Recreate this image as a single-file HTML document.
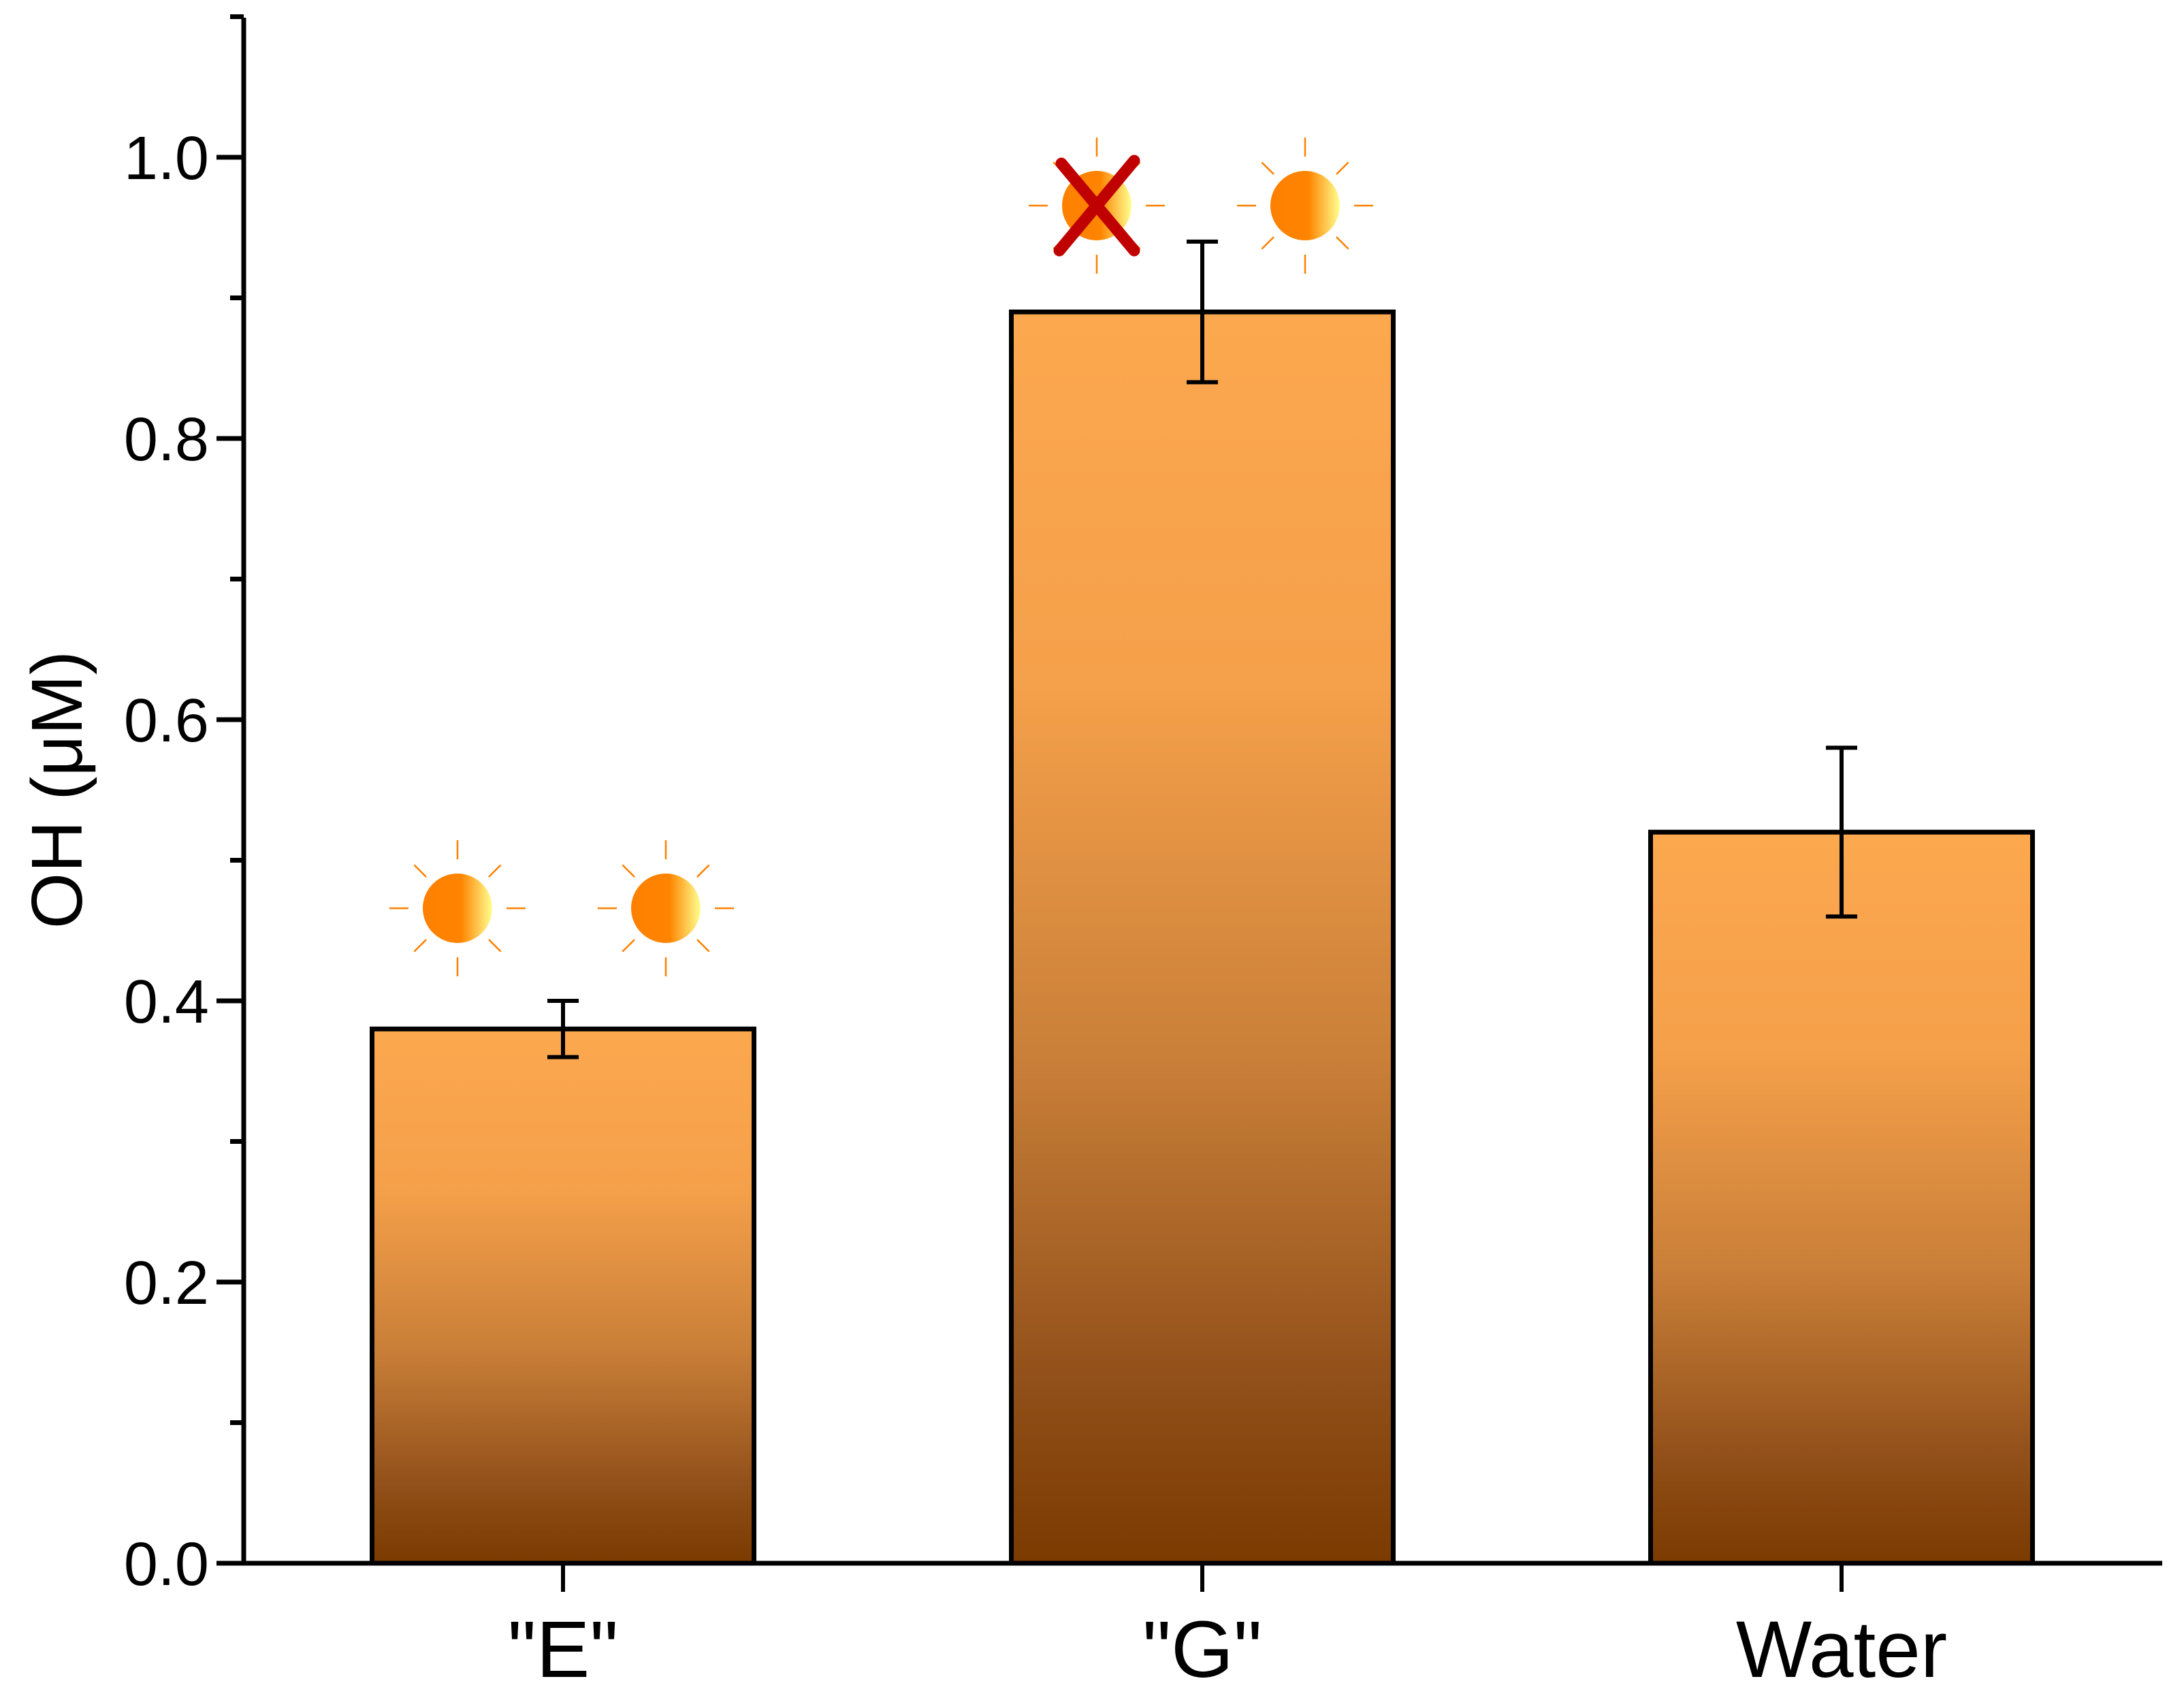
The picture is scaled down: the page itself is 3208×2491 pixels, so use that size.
<!DOCTYPE html>
<html><head><meta charset="utf-8"><style>
html,body{margin:0;padding:0;background:#fff;}
svg{display:block;font-family:"Liberation Sans",Arial,sans-serif;}
</style></head><body>
<svg id="chart" width="3208" height="2491" viewBox="0 0 3208 2491" xmlns="http://www.w3.org/2000/svg">
<defs>
<linearGradient id="barGrad" x1="0" y1="0" x2="0" y2="1">
<stop offset="0" stop-color="#fca84f"/>
<stop offset="0.3" stop-color="#f5a04a"/>
<stop offset="0.6" stop-color="#c97f38"/>
<stop offset="0.85" stop-color="#92501a"/>
<stop offset="1" stop-color="#7a3a00"/>
</linearGradient>
<linearGradient id="sunGrad" x1="0" y1="0" x2="1" y2="0">
<stop offset="0" stop-color="#ff8000"/>
<stop offset="0.55" stop-color="#ff8400"/>
<stop offset="1" stop-color="#ffff90"/>
</linearGradient>
</defs>
<g id="plot"></g>
</svg>
<script>
const categories = ['"E"', '"G"', 'Water'];
const values = [0.38, 0.89, 0.52];
const errors = [0.02, 0.05, 0.06];
const yTicks = [0.0, 0.2, 0.4, 0.6, 0.8, 1.0];
const yTickLabels = ['0.0', '0.2', '0.4', '0.6', '0.8', '1.0'];
const yMinor = [0.1, 0.3, 0.5, 0.7, 0.9, 1.1];
const sunCategoryIndex = [0, 0, 1, 1];
const sunSide = [-1, 1, -1, 1];
const sunCrossed = [false, false, true, false];

const NS = 'http://www.w3.org/2000/svg';
const g = document.getElementById('plot');
const x0 = 358, xEnd = 3176, yBase = 2296, pxPerUnit = 2065;
const catCenters = [827, 1766, 2705];
const barW = 561;
function yScale(v){ return yBase - v * pxPerUnit; }
function xScale(i){ return catCenters[i]; }
function mk(tag, attrs){ const e = document.createElementNS(NS, tag); for (const k in attrs) e.setAttribute(k, attrs[k]); g.appendChild(e); return e; }

values.forEach((v, i) => {
  const r = mk('rect', {x: xScale(i) - barW/2, y: yScale(v), width: barW, height: yBase - yScale(v), fill: 'url(#barGrad)', stroke: '#000', 'stroke-width': 7});
  
  
});
values.forEach((v, i) => {
  const cx = xScale(i), top = yScale(v + errors[i]), bot = yScale(v - errors[i]);
  const e = mk('path', {d: `M${cx},${top}V${bot}M${cx-23},${top}H${cx+23}M${cx-23},${bot}H${cx+23}`, stroke: '#000', 'stroke-width': 6, fill: 'none'});
  
  
});
sunCategoryIndex.forEach((ci, k) => {
  const cx = xScale(ci) + sunSide[k] * 153 - 2;
  const cyy = ci === 0 ? 1334 : 302;
  let rays = '';
  for (let a = 0; a < 8; a++) {
    const ang = a * Math.PI / 4;
    const r1 = a % 2 === 0 ? 72 : 65, r2 = a % 2 === 0 ? 100 : 90;
    rays += `M${cx + r1*Math.cos(ang)},${cyy + r1*Math.sin(ang)}L${cx + r2*Math.cos(ang)},${cyy + r2*Math.sin(ang)}`;
  }
  const rp = mk('path', {d: rays, stroke: '#ff8000', 'stroke-width': 2.5, fill: 'none'});
  
  
  const c = mk('circle', {cx: cx, cy: cyy, r: 51, fill: 'url(#sunGrad)'});
  
  
  if (sunCrossed[k]) {
    const x = mk('path', {d: `M${cx-55},${cyy+66}L${cx+55},${cyy-66}M${cx-52},${cyy-62}L${cx+55},${cyy+66}`, stroke: '#c00000', 'stroke-width': 17, 'stroke-linecap': 'round', fill: 'none'});
    
    
  }
});
const ya = mk('line', {x1: x0, y1: 26, x2: x0, y2: yBase + 3, stroke: '#000', 'stroke-width': 7});


const xa = mk('line', {x1: x0 - 3, y1: yBase, x2: xEnd, y2: yBase, stroke: '#000', 'stroke-width': 7});


yTicks.forEach((v, i) => {
  const t = mk('line', {x1: x0 - 40, y1: yScale(v), x2: x0, y2: yScale(v), stroke: '#000', 'stroke-width': 7});
  
  
  const l = mk('text', {x: 307, y: yScale(v) + 32, 'text-anchor': 'end', 'font-size': 90});
  l.textContent = yTickLabels[i];
  
  
});
yMinor.forEach(v => {
  const t = mk('line', {x1: x0 - 20, y1: yScale(v), x2: x0, y2: yScale(v), stroke: '#000', 'stroke-width': 7});
  
  
});
categories.forEach((c, i) => {
  const t = mk('line', {x1: xScale(i), y1: yBase, x2: xScale(i), y2: yBase + 42, stroke: '#000', 'stroke-width': 6});
  
  
  const l = mk('text', {x: xScale(i), y: 2463, 'text-anchor': 'middle', 'font-size': 118});
  l.textContent = c;
  
  
});
const yt = mk('text', {x: 0, y: 0, 'text-anchor': 'middle', 'font-size': 106, transform: 'translate(120,1160) rotate(-90)'});
yt.textContent = 'OH (μM)';


</script>
</body></html>
